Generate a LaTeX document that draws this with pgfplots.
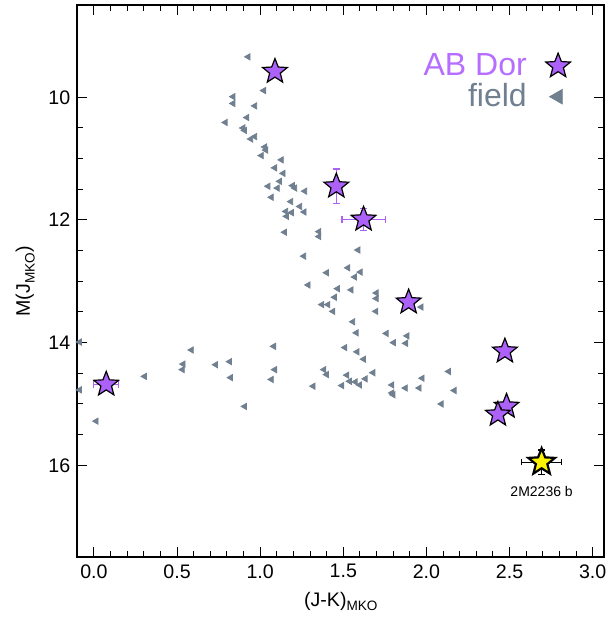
\documentclass[border=0pt]{standalone}
\usepackage{pgfplots}
\pgfplotsset{compat=1.18}
\usepackage{fontspec}
\setmainfont{Liberation Sans}
\usetikzlibrary{plotmarks}
\definecolor{abdor}{RGB}{172,98,248}
\definecolor{abdortext}{RGB}{182,110,255}
\definecolor{fieldc}{RGB}{112,128,144}
\newcommand{\sub}[1]{\raisebox{-0.45ex}{\fontsize{6.8}{7}\selectfont #1}}
\pgfdeclareplotmark{fstar}{%
  \pgfpathmoveto{\pgfpointpolar{90}{\pgfplotmarksize}}%
  \pgfpathlineto{\pgfpointpolar{126}{0.43\pgfplotmarksize}}%
  \pgfpathlineto{\pgfpointpolar{162}{\pgfplotmarksize}}%
  \pgfpathlineto{\pgfpointpolar{198}{0.43\pgfplotmarksize}}%
  \pgfpathlineto{\pgfpointpolar{234}{\pgfplotmarksize}}%
  \pgfpathlineto{\pgfpointpolar{270}{0.43\pgfplotmarksize}}%
  \pgfpathlineto{\pgfpointpolar{306}{\pgfplotmarksize}}%
  \pgfpathlineto{\pgfpointpolar{342}{0.43\pgfplotmarksize}}%
  \pgfpathlineto{\pgfpointpolar{18}{\pgfplotmarksize}}%
  \pgfpathlineto{\pgfpointpolar{54}{0.43\pgfplotmarksize}}%
  \pgfpathclose
  \pgfusepathqfillstroke
}
\begin{document}
\begin{tikzpicture}
\begin{axis}[
  at={(0pt,0pt)}, anchor=south west,
  scale only axis, width=263.5pt, height=276pt,
  xmin=-0.1, xmax=3.07, ymin=8.5, ymax=17.5, y dir=reverse,
  xtick={0,0.5,...,3}, ytick={10,12,14,16},
  minor x tick num=4, minor y tick num=3,
  tick align=inside,
  major tick length=5pt, minor tick length=3pt,
  every tick/.style={black, line width=0.5pt},
  axis line style={line width=1pt},
  /pgf/number format/assume math mode=true,
  xticklabel style={/pgf/number format/fixed, /pgf/number format/fixed zerofill, /pgf/number format/precision=1},
  ticklabel style={font=\fontsize{9.8}{11}\selectfont},
  label style={font=\fontsize{9.8}{11}\selectfont},
  xlabel={(J-K)\sub{MKO}},
  ylabel={M(J\sub{MKO})},
  legend style={draw=none, fill=none, at={(axis cs:2.905,9.15)}, anchor=north east,
    font=\fontsize{16}{18}\selectfont, row sep=-1.5pt,
    /tikz/every odd column/.append style={column sep=7.5pt}},
  legend cell align=right, legend plot pos=right,
  clip=false,
]
\addlegendimage{only marks, mark=fstar, mark size=6.5pt, draw=black, fill=abdor, line width=0.6pt}
\addlegendentry{\textcolor{abdortext}{AB Dor}}
\addlegendimage{only marks, mark=triangle*, mark size=4.2pt, mark options={rotate=90, fill=fieldc, draw=fieldc}}
\addlegendentry{\textcolor{fieldc}{field}}
% field objects
\addplot[forget plot, only marks, mark=triangle*, mark size=1.8pt, mark options={rotate=90, fill=fieldc, draw=fieldc}] coordinates {
(0.928,9.34) (1.022,9.89) (0.837,9.99) (0.837,10.10) (0.968,10.14) (0.921,10.33)
(0.791,10.41) (0.897,10.50) (0.907,10.54) (0.944,10.68) (0.968,10.64) (1.028,10.81)
(1.034,10.86) (1.008,10.95) (1.128,11.02) (1.088,11.15) (1.139,11.24) (1.118,11.37)
(1.048,11.45) (1.104,11.48) (1.195,11.44) (1.209,11.48) (1.269,11.53) (1.068,11.63)
(1.185,11.70) (1.239,11.78) (1.155,11.86) (1.189,11.88) (1.159,11.94) (1.265,11.87)
(1.148,12.20) (1.354,12.19) (1.354,12.27) (1.263,12.59) (1.400,12.86) (1.289,13.06)
(1.372,13.38) (1.408,13.38) (-0.086,13.99) (-0.086,14.77) (0.587,14.12) (0.537,14.35)
(0.533,14.44) (0.733,14.36) (0.817,14.31) (0.823,14.57) (1.082,14.06) (1.088,14.44)
(1.068,14.60) (0.907,15.04) (0.305,14.55) (0.014,15.28) (1.319,14.71) (1.384,14.44)
(1.400,14.52) (1.589,12.49) (1.528,12.78) (1.603,12.85) (1.569,12.93) (1.466,13.12)
(1.548,13.14) (1.448,13.26) (1.699,13.19) (1.699,13.28) (1.438,13.49) (1.697,13.49)
(1.969,13.42) (1.558,13.66) (1.579,13.84) (1.759,13.85) (1.803,14.00) (1.884,13.89)
(1.876,14.01) (1.510,14.08) (1.583,14.15) (1.623,14.27) (1.522,14.53) (1.492,14.70)
(1.538,14.63) (1.573,14.64) (1.599,14.69) (1.633,14.59) (1.679,14.49) (1.793,14.69)
(1.793,14.82) (1.800,14.85) (1.874,14.74) (1.957,14.74) (1.975,14.58) (2.134,14.47)
(2.168,14.78) (2.090,15.00)
};
% AB Dor members without visible error bars
\addplot[forget plot, only marks, mark=fstar, mark size=6.5pt, mark options={draw=black, fill=abdor, line width=0.6pt}] coordinates {
(1.089,9.58) (1.893,13.34) (2.472,14.14) (2.482,15.04) (2.430,15.17)
};
% AB Dor members with error bars
\addplot[forget plot, only marks, mark=fstar, mark size=6.5pt, mark options={draw=black, fill=abdor, line width=0.6pt},
  error bars/.cd, x dir=both, x explicit, y dir=both, y explicit,
  error bar style={abdor, line width=0.6pt},
  error mark options={rotate=90, abdor, mark size=1.6pt, line width=0.6pt}] coordinates {
(1.458,11.45) +- (0.0,0.28)
(1.622,11.99) +- (0.13,0.18)
(0.074,14.68) +- (0.075,0.0)
};
% 2M2236 b
\addplot[forget plot, only marks, mark=fstar, mark size=7pt, mark options={draw=black, fill=yellow, line width=1.1pt},
  error bars/.cd, x dir=both, x explicit, y dir=both, y explicit,
  error bar style={black, line width=0.6pt},
  error mark options={rotate=90, black, mark size=1.6pt, line width=0.6pt}] coordinates {
(2.693,15.95) +- (0.12,0.2)
};
\node[font=\fontsize{7}{8}\selectfont, anchor=center] at (axis cs:2.693,16.43) {2M2236 b};
\end{axis}
\pgfresetboundingbox
\path (-38.65pt,-33.35pt) rectangle (266.35pt,278.65pt);
\end{tikzpicture}
\end{document}
